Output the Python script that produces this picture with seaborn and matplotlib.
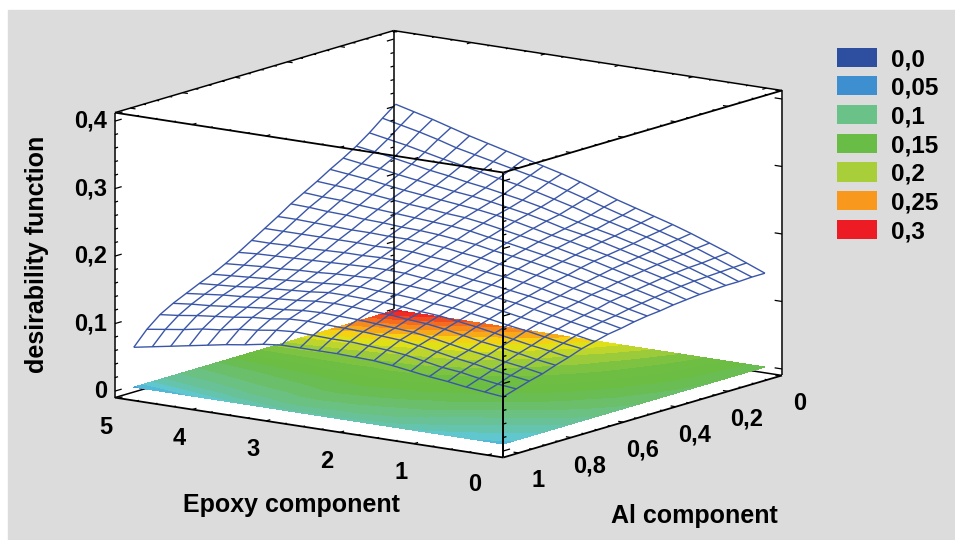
import numpy as np
import matplotlib
matplotlib.use("Agg")
import matplotlib.pyplot as plt
from matplotlib.patches import Rectangle
from mpl_toolkits.mplot3d import proj3d
from mpl_toolkits.mplot3d.art3d import Poly3DCollection
import seaborn as sns

# Al component 0..1 (rows), epoxy component 0..5 (columns), values in 1/1000
epoxy = [0, 0.25, 0.5, 0.75, 1, 1.25, 1.5, 1.75, 2, 2.25, 2.5, 2.75, 3, 3.25, 3.5, 3.75, 4, 4.25, 4.5, 4.75, 5]
al = [0, 0.05, 0.1, 0.15, 0.2, 0.25, 0.3, 0.35, 0.4, 0.45, 0.5, 0.55, 0.6, 0.65, 0.7, 0.75, 0.8, 0.85, 0.9, 0.95, 1]
desirability = [
    [139, 150, 161, 171, 181, 190, 198, 206, 214, 223, 232, 240, 247, 254, 261, 268, 275, 283, 291, 298, 305],
    [139, 149, 159, 169, 178, 186, 194, 201, 209, 217, 225, 233, 239, 245, 251, 257, 263, 271, 278, 284, 290],
    [138, 148, 157, 166, 175, 183, 190, 197, 203, 211, 218, 225, 231, 236, 241, 247, 252, 258, 264, 269, 274],
    [138, 147, 156, 164, 172, 179, 186, 192, 198, 205, 212, 218, 223, 228, 232, 237, 241, 246, 251, 256, 260],
    [137, 146, 154, 162, 169, 176, 183, 189, 194, 201, 207, 212, 217, 221, 224, 228, 232, 236, 241, 244, 248],
    [136, 144, 152, 159, 166, 173, 179, 185, 190, 196, 202, 207, 211, 214, 217, 220, 223, 227, 231, 234, 237],
    [134, 142, 149, 156, 163, 170, 175, 181, 186, 191, 196, 201, 205, 207, 210, 212, 215, 218, 221, 223, 225],
    [132, 139, 146, 153, 159, 166, 171, 176, 181, 186, 190, 195, 198, 200, 202, 204, 206, 208, 211, 212, 214],
    [129, 136, 143, 149, 155, 161, 167, 172, 176, 180, 185, 188, 191, 193, 194, 196, 197, 199, 200, 202, 203],
    [127, 133, 140, 146, 151, 157, 162, 167, 170, 175, 178, 182, 184, 186, 186, 187, 187, 188, 189, 190, 190],
    [124, 129, 135, 141, 146, 152, 157, 161, 164, 168, 172, 174, 177, 178, 177, 178, 178, 178, 178, 178, 178],
    [120, 126, 131, 137, 142, 147, 151, 155, 158, 162, 165, 167, 169, 170, 169, 169, 168, 167, 167, 166, 166],
    [117, 122, 127, 132, 137, 142, 146, 150, 153, 156, 158, 161, 162, 162, 161, 160, 159, 158, 157, 156, 154],
    [112, 117, 122, 127, 131, 136, 140, 144, 147, 150, 152, 153, 155, 154, 153, 151, 150, 148, 147, 145, 143],
    [107, 111, 116, 121, 125, 130, 134, 138, 140, 143, 145, 146, 148, 147, 145, 143, 141, 139, 137, 135, 133],
    [100, 105, 109, 114, 119, 124, 128, 132, 134, 137, 139, 140, 141, 141, 138, 136, 134, 132, 129, 127, 125],
    [94, 98, 103, 108, 112, 117, 122, 126, 128, 131, 132, 134, 135, 134, 131, 129, 127, 124, 122, 119, 116],
    [87, 92, 96, 101, 105, 110, 115, 119, 121, 123, 125, 126, 127, 126, 123, 121, 118, 115, 112, 110, 107],
    [82, 86, 90, 95, 99, 104, 109, 113, 115, 117, 118, 119, 120, 119, 115, 113, 109, 106, 103, 99, 96],
    [76, 79, 83, 88, 91, 96, 101, 104, 106, 108, 108, 109, 110, 108, 104, 101, 96, 93, 88, 84, 80],
    [70, 73, 76, 80, 83, 87, 91, 94, 95, 96, 96, 96, 96, 93, 88, 84, 79, 74, 69, 64, 59],
]

epoxy_ticks = [0, 1, 2, 3, 4, 5]
al_ticks = [0, 0.2, 0.4, 0.6, 0.8, 1]
al_labels = ["0", "0,2", "0,4", "0,6", "0,8", "1"]
z_ticks = [0, 0.1, 0.2, 0.3, 0.4]
z_labels = ["0", "0,1", "0,2", "0,3", "0,4"]

legend_labels = ["0,0", "0,05", "0,1", "0,15", "0,2", "0,25", "0,3"]
legend_colors = ["#2e4fa0", "#3e8fcf", "#6bc288", "#69bc45", "#a8cf39", "#f8981d", "#ed1c24"]
fill_colors = ["#2e4fa0", "#3670b8", "#3e8fcf", "#5cc8dc", "#68c3a0", "#6cc078", "#69bc45",
               "#6fbe42", "#a8cf39", "#f2e60f", "#f8981d", "#f36020", "#ed1c24"]

xlo, xhi = -0.21, 5.047
ylo, yhi = -0.006, 1.059
zlo, zhi = -0.0096, 0.4126

sns.set_theme(style="white")
plt.rcParams["font.family"] = ["Liberation Sans", "DejaVu Sans"]
plt.rcParams["font.weight"] = "bold"

fig = plt.figure(figsize=(9.55, 5.4), dpi=100, facecolor="white")
fig.add_artist(Rectangle((8 / 955, 0), 947 / 955, 530 / 540,
                         transform=fig.transFigure, color="#dcdcdc", zorder=-10))

# side 700 px, centred on the middle of the box
ax = fig.add_axes([(439 - 350) / 955, (286.5 - 350) / 540, 700 / 955, 700 / 540],
                  projection="3d", proj_type="ortho", computed_zorder=False)
ax.patch.set_alpha(0)
ax.view_init(elev=12.3, azim=125.9)
ax.set_box_aspect((480, 476, 292), zoom=1.02)
ax.set_xlim(xlo, xhi, view_margin=0)
ax.set_ylim(ylo, yhi, view_margin=0)
ax.set_zlim(zlo, zhi, view_margin=0)
ax.set_xticks([])
ax.set_yticks([])
ax.set_zticks([])
ax.set_axis_off()

walls = [
    [(xlo, ylo, zlo), (xhi, ylo, zlo), (xhi, yhi, zlo), (xlo, yhi, zlo)],
    [(xhi, ylo, zlo), (xhi, yhi, zlo), (xhi, yhi, zhi), (xhi, ylo, zhi)],
    [(xlo, ylo, zlo), (xhi, ylo, zlo), (xhi, ylo, zhi), (xlo, ylo, zhi)],
]
ax.add_collection3d(Poly3DCollection(walls, facecolor="white", edgecolor="white", zorder=0))


def seg(p, q, lw=1.1, zorder=3):
    ax.plot([p[0], q[0]], [p[1], q[1]], [p[2], q[2]], color="black", lw=lw, zorder=zorder,
            solid_capstyle="butt")


def tick_label(x, y, z, s, dx, dy, ha="center"):
    # label at a pixel offset from the projected tick
    px, py, _ = proj3d.proj_transform(x, y, z, ax.get_proj())
    ax.annotate(s, xy=(px, py), xycoords="data", xytext=(dx * 0.72, -dy * 0.72),
                textcoords="offset points", ha=ha, va="center", fontsize=17, color="black",
                annotation_clip=False)


# hidden floor edges go under the filled contours
seg((xhi, ylo, zlo), (xhi, yhi, zlo), zorder=0.5)
seg((xhi, ylo, zlo), (xlo, ylo, zlo), zorder=0.5)

X, Y = np.meshgrid(epoxy, al)
Z = np.array(desirability) / 1000
cmap = sns.blend_palette(fill_colors, as_cmap=True)
ax.contourf(X, Y, Z, levels=np.arange(0, 0.33, 0.0125), cmap=cmap, vmin=0, vmax=0.3,
            zdir="z", offset=0, antialiased=False, zorder=1)
ax.plot_wireframe(X, Y, Z, color="#3a56a8", linewidth=1.0, zorder=2)

# box
seg((xhi, ylo, 0), (xhi, ylo, zhi))
seg((xhi, yhi, zlo), (xhi, yhi, zhi))
seg((xlo, ylo, zlo), (xlo, ylo, zhi))
seg((xlo, yhi, zlo), (xlo, yhi, zhi), lw=1.4)
seg((xhi, yhi, zlo), (xlo, yhi, zlo), lw=1.3)
seg((xlo, yhi, zlo), (xlo, ylo, zlo), lw=1.3)
seg((xhi, yhi, zhi), (xlo, yhi, zhi), lw=1.3)
seg((xlo, yhi, zhi), (xlo, ylo, zhi), lw=1.3)
seg((xhi, yhi, zhi), (xhi, ylo, zhi))
seg((xhi, ylo, zhi), (xlo, ylo, zhi))

# ticks along the box edges
for k in np.arange(0, 0.41, 0.02):
    major = round(k * 10, 3) in (0, 1, 2, 3, 4)
    dy = 0.026 if major else 0.012
    seg((xhi, yhi, k), (xhi, yhi - dy, k), lw=0.9)
    seg((xlo, yhi, k), (xlo, yhi - dy, k), lw=0.9)
    seg((xhi, ylo, k), (xhi, ylo + dy, k), lw=0.9)
    if major:
        seg((xlo, ylo, k), (xlo + 0.1, ylo, k), lw=0.9)
for k in np.arange(0, 5.01, 0.25):
    dy = 0.016 if k in epoxy_ticks else 0.008
    seg((k, yhi, zlo), (k, yhi - dy, zlo), lw=0.9)
    seg((k, yhi, zhi), (k, yhi - dy, zhi), lw=0.9)
    seg((k, ylo, zhi), (k, ylo + dy, zhi), lw=0.9)
for k in np.arange(0, 1.01, 0.05):
    dx = 0.07 if round(k * 5, 3) in (0, 1, 2, 3, 4, 5) else 0.035
    seg((xlo, k, zlo), (xlo + dx, k, zlo), lw=0.9)
    seg((xlo, k, zhi), (xlo + dx, k, zhi), lw=0.9)
    seg((xhi, k, zhi), (xhi - dx, k, zhi), lw=0.9)

for v in epoxy_ticks:
    tick_label(v, yhi, zlo, str(v), -13, 29)
for v, s in zip(al_ticks, al_labels):
    tick_label(xlo, v, zlo, s, 19, 28)
for v, s in zip(z_ticks, z_labels):
    tick_label(xhi, yhi, v, s, -8, 0, ha="right")

fig.text(291 / 955, 1 - 505 / 540, "Epoxy component", ha="center", va="center", fontsize=18, color="black")
fig.text(694 / 955, 1 - 516 / 540, "Al component", ha="center", va="center", fontsize=18, color="black")
fig.text(37 / 955, 1 - 254 / 540, "desirability function", rotation=90, ha="center", va="center",
         fontsize=18, color="black")

# colour key
lax = fig.add_axes([837 / 955, 1 - 243.75 / 540, 40 / 955, 201 / 540])
sns.barplot(x=[1] * len(legend_labels), y=legend_labels, hue=legend_labels, palette=legend_colors,
            width=0.667, saturation=1, linewidth=0, legend=False, ax=lax)
lax.set_xlim(0, 1)
lax.patch.set_alpha(0)
lax.set_xticks([])
lax.yaxis.tick_right()
lax.tick_params(axis="y", length=0, pad=10, labelsize=17.5, labelcolor="black")
lax.set_xlabel("")
lax.set_ylabel("")
sns.despine(ax=lax, left=True, bottom=True, top=True, right=True)

fig.savefig("out.png", dpi=100, facecolor="white")
